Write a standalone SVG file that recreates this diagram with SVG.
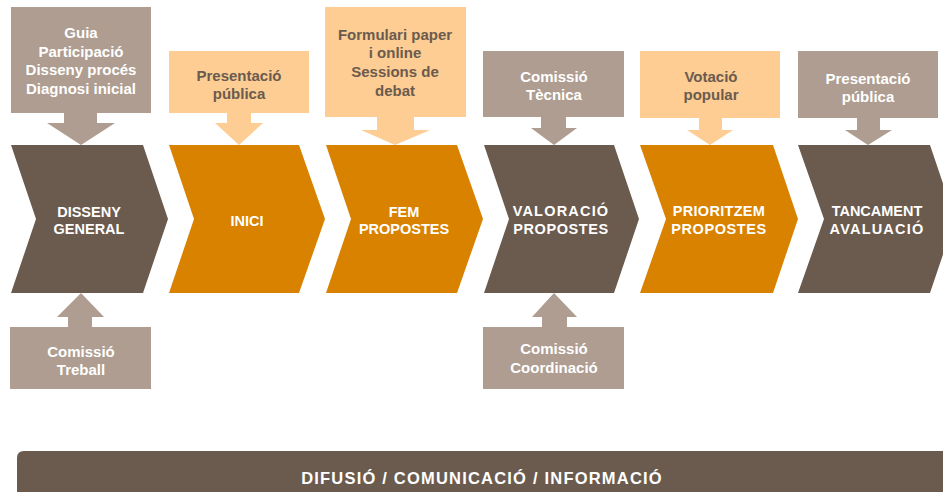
<svg xmlns="http://www.w3.org/2000/svg" width="943" height="492" viewBox="0 0 943 492">
<style>
.dk{fill:#6b5b4e}
.or{fill:#d98200}
.lo{fill:#fdcd93}
.gr{fill:#ae9d90}
text{font-family:"Liberation Sans",Arial,sans-serif;font-weight:bold;text-anchor:middle}
.ct{font-size:14.5px;fill:#ffffff}
.wt{font-size:15px;fill:#ffffff}
.bt{font-size:15px;fill:#6b5b4e}
.ft{font-size:16.5px;fill:#ffffff;letter-spacing:1.2px}
</style>
<rect width="943" height="492" fill="#ffffff"/>
<g id="connectors">
<polygon class="gr" points="64,113 97,113 97,123 115,123 81,145 47,123 64,123"/>
<polygon class="lo" points="227,113 251,113 251,123 263,123 239,145 215,123 227,123"/>
<polygon class="lo" points="377,117 414,117 414,130 430,130 395,145 361,130 377,130"/>
<polygon class="gr" points="541,117 566,117 566,128 577,128 554,145 531,128 541,128"/>
<polygon class="lo" points="699,118 722,118 722,130 733,130 710,145 687,130 699,130"/>
<polygon class="gr" points="857,118 880,118 880,130 892,130 868,145 845,130 857,130"/>
<polygon class="gr" points="68,327 92,327 92,317 104,317 81,293 57,317 68,317"/>
<polygon class="gr" points="542,327 567,327 567,317 577,317 554,293 532,317 542,317"/>
</g>
<g id="n-disseny"><polygon class="dk" points="11,145 143,145 168,219 143,293 11,293 36,219"/><text class="ct" x="89" y="217">DISSENY</text><text class="ct" x="89" y="234">GENERAL</text></g>
<g id="n-inici"><polygon class="or" points="169,145 299,145 325,219 299,293 169,293 194,219"/><text class="ct" x="247" y="226">INICI</text></g>
<g id="n-fem"><polygon class="or" points="326,145 457,145 483,219 457,293 326,293 351,219"/><text class="ct" x="404" y="217">FEM</text><text class="ct" x="404" y="234">PROPOSTES</text></g>
<g id="n-valoracio"><polygon class="dk" points="484,145 614,145 639,219 614,293 484,293 509,219"/><text class="ct" x="561" y="216" letter-spacing="1.2">VALORACIÓ</text><text class="ct" x="561" y="234" letter-spacing="0.6">PROPOSTES</text></g>
<g id="n-prioritzem"><polygon class="or" points="640,145 773,145 798,219 773,293 640,293 666,219"/><text class="ct" x="719" y="216" letter-spacing="0.3">PRIORITZEM</text><text class="ct" x="719" y="234" letter-spacing="0.6">PROPOSTES</text></g>
<g id="n-tancament"><polygon class="dk" points="798,145 930,145 955,219 930,293 798,293 824,219"/><text class="ct" x="877" y="216">TANCAMENT</text><text class="ct" x="877" y="234" letter-spacing="1.2">AVALUACIÓ</text></g>
<g id="c-guia"><rect class="gr" x="11" y="7" width="140" height="106"/><text class="wt" x="81" y="38">Guia</text><text class="wt" x="81" y="57">Participació</text><text class="wt" x="81" y="75">Disseny procés</text><text class="wt" x="81" y="94">Diagnosi inicial</text></g>
<g id="c-presentacio1"><rect class="lo" x="169" y="51" width="140" height="62"/><text class="bt" x="239" y="81">Presentació</text><text class="bt" x="239" y="99">pública</text></g>
<g id="c-formulari"><rect class="lo" x="325" y="7" width="141" height="110"/><text class="bt" x="395" y="40">Formulari paper</text><text class="bt" x="395" y="58">i online</text><text class="bt" x="395" y="77">Sessions de</text><text class="bt" x="395" y="96">debat</text></g>
<g id="c-tecnica"><rect class="gr" x="483" y="51" width="141" height="66"/><text class="wt" x="554" y="82">Comissió</text><text class="wt" x="554" y="100">Tècnica</text></g>
<g id="c-votacio"><rect class="lo" x="640" y="51" width="140" height="67"/><text class="bt" x="711" y="82">Votació</text><text class="bt" x="711" y="100">popular</text></g>
<g id="c-presentacio2"><rect class="gr" x="798" y="51" width="140" height="67"/><text class="wt" x="868" y="84">Presentació</text><text class="wt" x="868" y="102">pública</text></g>
<g id="c-treball"><rect class="gr" x="10" y="327" width="141" height="62"/><text class="wt" x="81" y="357">Comissió</text><text class="wt" x="81" y="375">Treball</text></g>
<g id="c-coordinacio"><rect class="gr" x="483" y="327" width="141" height="62"/><text class="wt" x="554" y="354">Comissió</text><text class="wt" x="554" y="373">Coordinació</text></g>
<g id="n-difusio"><path class="dk" d="M17,458 Q17,451 24,451 L943,451 L943,492 L17,492 Z"/><text class="ft" x="482" y="484">DIFUSIÓ / COMUNICACIÓ / INFORMACIÓ</text></g>
</svg>
